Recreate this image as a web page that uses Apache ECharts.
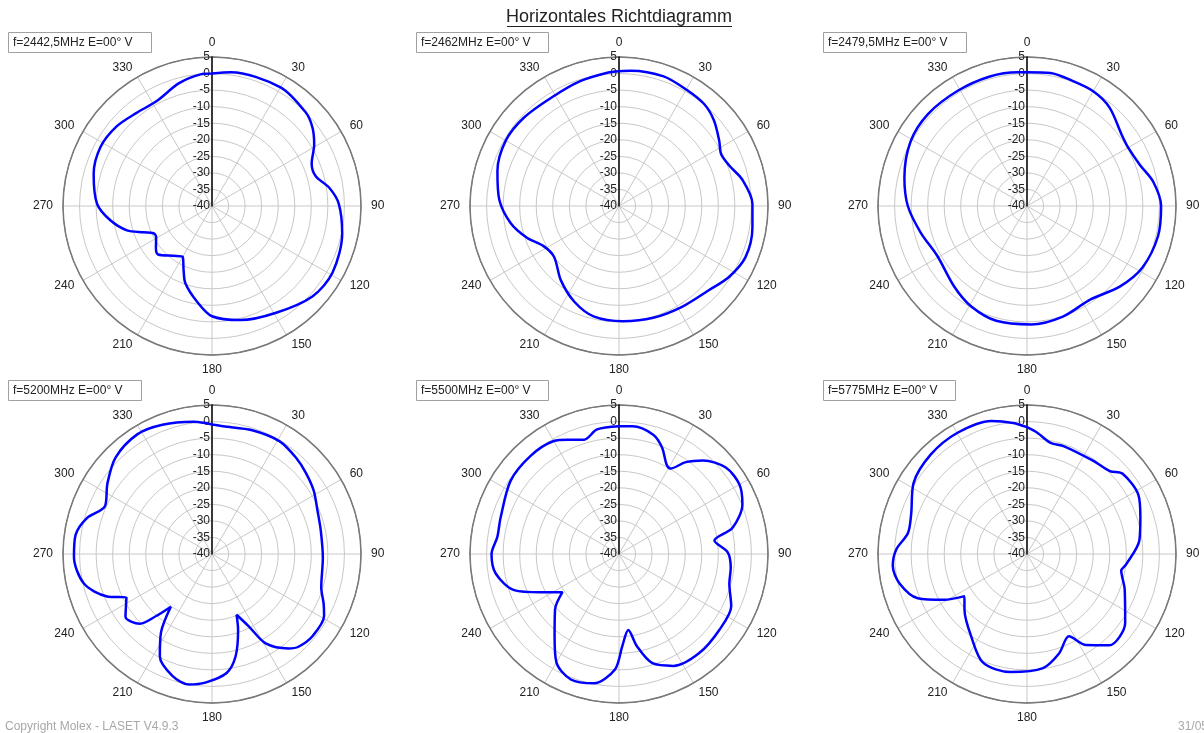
<!DOCTYPE html>
<html>
<head>
<meta charset="utf-8">
<script src="https://cdn.jsdelivr.net/npm/echarts@6/dist/echarts.min.js"></script>
<style>
html,body{margin:0;padding:0;background:#fff;}
#c{width:1204px;height:733px;}
</style>
</head>
<body>
<div id="c"></div>
<script>
// ---- Data (angle in degrees, gain in dB) ----
const labels = ["f=2442,5MHz E=00° V","f=2462MHz E=00° V","f=2479,5MHz E=00° V","f=5200MHz E=00° V","f=5500MHz E=00° V","f=5775MHz E=00° V"];
const angleTicks = [0,30,60,90,120,150,180,210,240,270,300,330];
const radiusTicks = [-40,-35,-30,-25,-20,-15,-10,-5,0,5];

const ang1 = [0,8,30,45,52,59,67,74,81,89,102,119,132,149,166,180,189,199,204,210,218,228,233,241,245,249,254,262,271,285,298,310,321,332,345,355];
const gain1 = [0,0.8,1.4,0,-1.5,-4,-7.3,-7.4,-4.2,-1.7,0.2,1.6,0.8,-2.4,-4.5,-6.7,-10.8,-15.3,-18.9,-22.3,-20.9,-18.1,-18.8,-20.7,-20.5,-17.9,-13.3,-9,-5.3,-3,-1.9,-2.5,-3.8,-4.2,-1.6,-0.1];

const ang2 = [0,5,19,30,40,48,57,63,70,78,89,99,112,123,133,148,163,178,193,205,218,232,242,251,261,273,286,300,313,329,343,355];
const gain2 = [0.7,1.0,1.4,0.6,0.1,-1.4,-3.9,-5.4,-4.5,-1.9,0.3,0.8,1.2,-0.5,-2.8,-4.1,-4.7,-5.2,-5.8,-8.1,-11.5,-15.1,-14.2,-10.6,-6.9,-3.8,-1.8,-0.5,-0.8,-1.4,-0.5,0.4];

const ang3 = [0,10,20,30,40,53,60,70,79,90,103,118,131,146,162,178,195,209,222,241,256,270,283,299,313,329,344,356];
const gain3 = [0.4,0.8,0.2,0,-1.2,-4.2,-4.7,-3.7,-1.2,0.5,0.6,-0.5,-2.9,-5.9,-4.9,-4.2,-4.1,-5.3,-7.2,-9,-6.9,-4,-2,0.2,0.8,0.6,0.7,0.5];

const ang4 = [0,5,18,31,41,49,58,68,78,92,107,114,119,129,137,141,149,153,158,161,167,173,183,190,198,207,213,218,222,226,234,243,248,257,269,278,286,294,304,315,328,339,352,357];
const gain4 = [-0.9,-1.3,-0.7,-0.3,-1.4,-2.5,-3.8,-5.6,-6.4,-6.5,-5.5,-3.1,-1.3,-0.8,-1.7,-3.3,-8.5,-15.4,-20.2,-15.8,-8.3,-3.8,-1.1,0,-1.3,-5.3,-11.7,-19.8,-14.8,-9.7,-7.7,-11,-5.8,-0.3,1.7,1.6,-0.7,-4.6,-1.9,1.2,2.6,1.8,0.3,-0.4];

const ang5 = [0,6,16,22,28,31,36,42,51,60,68,77,82,89,97,105,115,127,141,154,163,169,173,178,182,191,201,210,218,229,236,244,251,261,270,278,287,304,318,330,336,343,350];
const gain5 = [-1.4,-1.2,-2.5,-5.3,-9.4,-9.9,-5.7,-2,1.5,2,0.2,-4.8,-10.9,-7.2,-6,-5.5,-2.6,-2,-1.5,-2.4,-5.5,-11.6,-16.9,-12.1,-5.1,-0.2,0.6,-2.2,-8.4,-14.4,-19.4,-13.6,-6.5,-2.3,-1.5,-2.9,-2.6,-0.5,-0.1,-0.6,-2.2,-3.9,-1.8];

const ang6 = [0,5,12,19,35,45,50,62,72,83,96,100,110,125,138,147,153,162,172,188,202,214,228,236,241,248,257,265,272,280,289,302,316,330,345,354];
const gain6 = [-1.7,-3.3,-5.7,-5.6,-5.5,-4.6,-2.3,-1.9,-4,-5.8,-9.9,-11.1,-8.6,-3.8,-2.9,-7.2,-12.1,-8.5,-5.2,-4,-4.6,-9.9,-14.6,-17.2,-11.5,-4.4,-0.5,0.7,-0.5,-3.5,-3,0.4,1.8,2.2,1.6,-0.2];

const angles = [ang1, ang2, ang3, ang4, ang5, ang6];
const gains = [gain1, gain2, gain3, gain4, gain5, gain6];

// ---- Layout ----
const centers = [[212,206],[619,206],[1027,206],[212,554],[619,554],[1027,554]];
const R = 149;
const boxes = [[8,32,143,20],[416,32,132,20],[823,32,143,20],[8,380,133,20],[416,380,132,20],[823,380,132,20]];
const FONT = 'Liberation Sans, Arial, sans-serif';

const chart = echarts.init(document.getElementById('c'), null, {renderer:'canvas'});

const ringColors = ['#c8c8c8','#c8c8c8','#c8c8c8','#c8c8c8','#c8c8c8','#c8c8c8','#c8c8c8','#c8c8c8','#c8c8c8','#7a7a7a'];

const polar = centers.map(c => ({center: c, radius: R}));
const angleAxis = centers.map((c, i) => ({
  polarIndex: i, type: 'value', min: 0, max: 360, interval: 30,
  startAngle: 90, clockwise: true,
  axisLine: {lineStyle: {color: '#7a7a7a', width: 1.5}},
  axisTick: {show: false},
  axisLabel: {margin: 10, color: '#222', fontSize: 12, fontFamily: FONT, lineHeight: 1,
    formatter: v => {
      if (angleTicks.indexOf(v) < 0) return '';
      if (v === 0) return '{t|0}';
      if (v === 180) return '{b|180}';
      return '{n|' + v + '}';
    },
    rich: {
      n: {lineHeight: 1, fontSize: 12, fontFamily: FONT, color: '#222'},
      t: {lineHeight: 1, fontSize: 12, fontFamily: FONT, color: '#222', padding: [0, 0, 8, 0]},
      b: {lineHeight: 1, fontSize: 12, fontFamily: FONT, color: '#222', padding: [8, 0, 0, 0]}
    }},
  splitLine: {lineStyle: {color: '#c8c8c8', width: 1}}
}));
const radiusAxis = centers.map((c, i) => ({
  polarIndex: i, type: 'value', min: -40, max: 5, interval: 5,
  axisLine: {lineStyle: {color: '#000', width: 1.5}},
  axisTick: {show: false},
  axisLabel: {color: '#222', fontSize: 12, fontFamily: FONT, margin: 2,
    formatter: v => radiusTicks.indexOf(v) >= 0 ? String(v) : ''},
  splitLine: {lineStyle: {color: ringColors, width: 1}},
  z: 5
}));
const series = angles.map((a, i) => {
  const d = a.map((ang, j) => [gains[i][j], ang]);
  d.push([gains[i][0], 360]);
  return {
    type: 'line', coordinateSystem: 'polar', polarIndex: i,
    data: d, showSymbol: false, smooth: 0.3, animation: false,
    lineStyle: {color: '#0000ff', width: 2.5}, z: 10
  };
});

const graphic = [];
boxes.forEach((b, i) => {
  graphic.push({type: 'rect', shape: {x: b[0]+0.5, y: b[1]+0.5, width: b[2], height: b[3]},
    style: {fill: '#fff', stroke: '#a0a0a0', lineWidth: 1}, z: 20});
  graphic.push({type: 'text', x: b[0]+5, y: b[1]+b[3]/2+1,
    style: {text: labels[i], fill: '#222', fontSize: 12, fontFamily: FONT, textVerticalAlign: 'middle'}, z: 21});
});
graphic.push({type: 'text', x: 619, y: 17,
  style: {text: 'Horizontales Richtdiagramm', fill: '#222', fontSize: 18, fontFamily: FONT, textAlign: 'center', textVerticalAlign: 'middle'}});
graphic.push({type: 'line', shape: {x1: 507, y1: 26.5, x2: 732, y2: 26.5}, style: {stroke: '#222', lineWidth: 1}});
graphic.push({type: 'text', x: 5, y: 727,
  style: {text: 'Copyright Molex - LASET V4.9.3', fill: '#a8a8a8', fontSize: 12, fontFamily: FONT, textVerticalAlign: 'middle'}});
graphic.push({type: 'text', x: 1178, y: 727,
  style: {text: '31/05', fill: '#a8a8a8', fontSize: 12, fontFamily: FONT, textVerticalAlign: 'middle'}});

chart.setOption({
  animation: false,
  backgroundColor: '#fff',
  polar, angleAxis, radiusAxis, series, graphic
});
</script>
</body>
</html>
